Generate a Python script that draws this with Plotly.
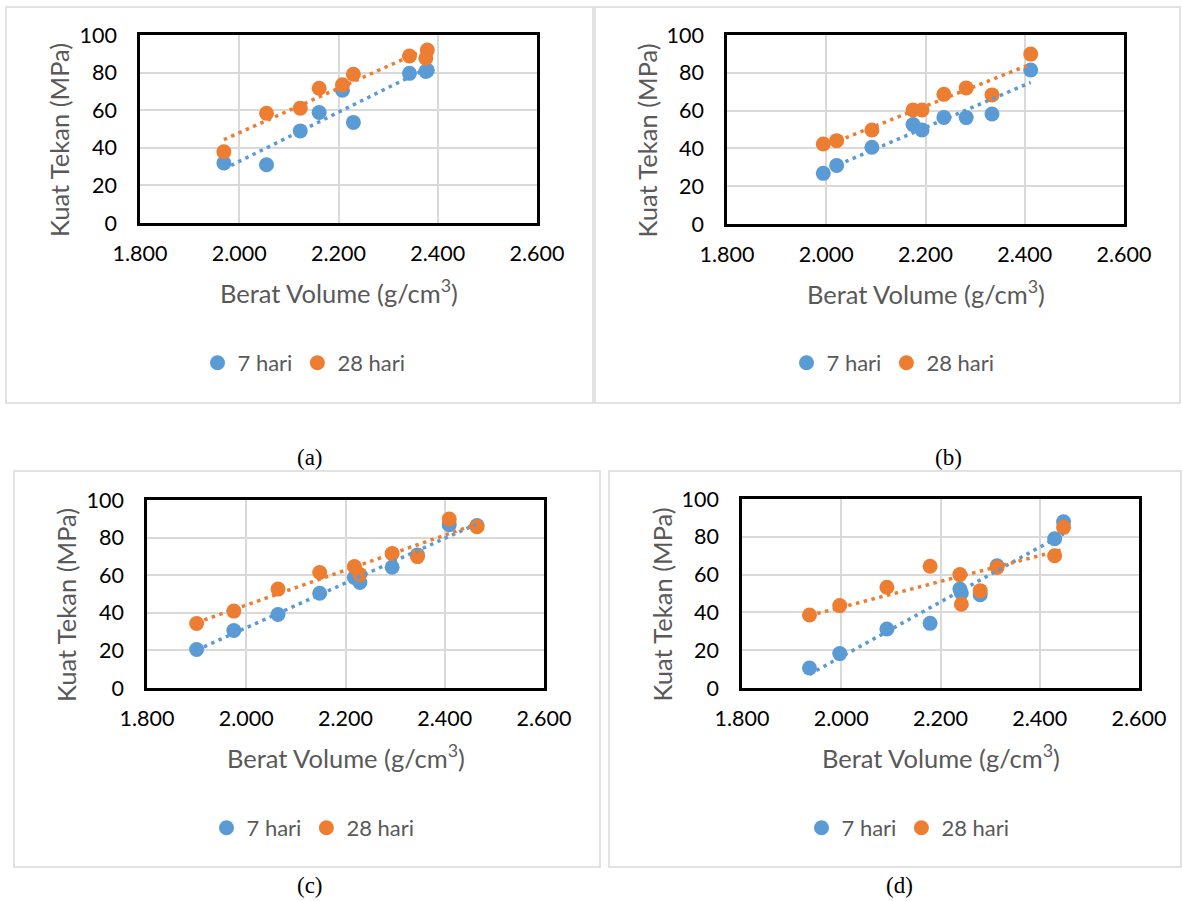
import numpy as np
import plotly.graph_objects as go

W, H = 1182, 901

# ---------------- data ----------------
# (a)
a_x = [1.969, 2.055, 2.123, 2.161, 2.208, 2.230, 2.343, 2.376, 2.379]
a_7 = [31.9, 31.0, 49.0, 58.8, 70.6, 53.5, 79.6, 80.6, 81.2]
a_28 = [37.9, 58.4, 61.1, 71.7, 73.5, 79.1, 88.8, 87.6, 92.0]
# (b)
b_x = [1.994, 2.021, 2.092, 2.175, 2.193, 2.237, 2.282, 2.334, 2.412]
b_7 = [26.8, 31.0, 40.6, 52.6, 49.7, 56.4, 56.3, 58.2, 81.5]
b_28 = [42.3, 44.1, 49.7, 60.3, 60.3, 68.6, 72.0, 68.3, 89.9]
# (c)
c_x = [1.900, 1.975, 2.064, 2.148, 2.218, 2.229, 2.294, 2.345, 2.409, 2.465]
c_7 = [20.5, 30.6, 39.1, 50.4, 58.8, 56.1, 64.2, 70.8, 86.9, 86.4]
c_28 = [34.3, 40.9, 52.6, 61.4, 64.6, 60.4, 71.5, 69.9, 89.9, 85.8]
# (d)
d_x = [1.936, 1.997, 2.092, 2.179, 2.239, 2.242, 2.280, 2.314, 2.430, 2.448]
d_7 = [10.6, 18.2, 31.2, 34.2, 52.4, 50.3, 49.4, 64.7, 79.0, 88.0]
d_28 = [38.6, 43.6, 53.3, 64.4, 60.0, 44.3, 51.5, 63.8, 70.0, 85.0]

series_names = ["7 hari", "28 hari"]
panel_labels = ["(a)", "(b)", "(c)", "(d)"]
x_ticks = [1.8, 2.0, 2.2, 2.4, 2.6]
y_ticks = [0, 20, 40, 60, 80, 100]
x_title = "Berat Volume (g/cm<sup>3</sup>)"
y_title = "Kuat Tekan (MPa)"

BLUE = "#5B9BD5"
ORANGE = "#ED7D31"
GRID = "#D9D9D9"
GREY = "#595959"
FONT = "Lato"


def px(x):
    return x / W


def py(y):
    return 1 - y / H


# pixel geometry of each panel: plot area (l, r, t, b), frame (l, r, t, b), legend (cx, cy), label (x, y), ytitle x
panels = [
    dict(data=(a_x, a_7, a_28), plot=(140, 537, 35, 223), frame=(6, 593, 7, 403),
         leg=(304, 363), lab=(310, 457), ytx=59),
    dict(data=(b_x, b_7, b_28), plot=(727, 1124, 35, 224), frame=(595, 1180, 7, 403),
         leg=(893, 363), lab=(948, 457), ytx=646),
    dict(data=(c_x, c_7, c_28), plot=(147, 544, 500, 688), frame=(14, 600, 471, 867),
         leg=(313, 828), lab=(310, 885), ytx=66),
    dict(data=(d_x, d_7, d_28), plot=(742, 1139, 499, 688), frame=(609, 1181, 471, 867),
         leg=(908, 828), lab=(900, 885), ytx=661),
]

fig = go.Figure()
layout = dict(
    width=W, height=H, margin=dict(l=0, r=0, t=0, b=0, autoexpand=False),
    paper_bgcolor="white", plot_bgcolor="white",
    font=dict(family=FONT, size=20, color="black"),
)
shapes = []
annotations = []

for i, p in enumerate(panels):
    k = "" if i == 0 else str(i + 1)
    xa, ya = "x" + k, "y" + k
    legname = "legend" + k
    xs, y7, y28 = p["data"]
    l, r, t, b = p["plot"]

    # markers
    for ys, col, nm in ((y7, BLUE, series_names[0]), (y28, ORANGE, series_names[1])):
        fig.add_trace(go.Scatter(
            x=xs, y=ys, mode="markers", name=nm, xaxis=xa, yaxis=ya,
            marker=dict(size=15, color=col), legend=legname, showlegend=True,
            hoverinfo="x+y",
        ))
    # linear trendlines (least-squares fit of each series)
    for ys, col in ((y7, BLUE), (y28, ORANGE)):
        m, c0 = np.polyfit(xs, ys, 1)
        xl = np.array([min(xs), max(xs)])
        fig.add_trace(go.Scatter(
            x=xl, y=m * xl + c0, mode="lines", xaxis=xa, yaxis=ya,
            line=dict(color=col, width=3.5, dash="3.5px,4.5px"),
            showlegend=False, hoverinfo="skip",
        ))

    layout["xaxis" + k] = dict(
        domain=[px(l), px(r)], anchor=ya, range=[1.8, 2.6],
        tickvals=x_ticks, tickformat=".3f", showgrid=True, gridcolor=GRID, gridwidth=1.5,
        showline=True, linecolor="black", linewidth=2.5, mirror=True, zeroline=False,
        ticks="", ticklabelstandoff=9, tickfont=dict(family=FONT, size=21.5, color="black"),
    )
    layout["yaxis" + k] = dict(
        domain=[py(b), py(t)], anchor=xa, range=[0, 100],
        tickvals=y_ticks, showgrid=True, gridcolor=GRID, gridwidth=1.5,
        showline=True, linecolor="black", linewidth=2.5, mirror=True, zeroline=False,
        ticks="", ticklabelstandoff=16, tickfont=dict(family=FONT, size=21.5, color="black"),
    )
    layout[legname] = dict(
        orientation="h", x=px(p["leg"][0]), y=py(p["leg"][1]), xanchor="center", yanchor="middle",
        xref="paper", yref="paper", font=dict(family=FONT, size=22, color=GREY),
        bgcolor="rgba(0,0,0,0)", itemclick=False, itemdoubleclick=False,
    )

    fl, fr, ft, fb = p["frame"]
    shapes.append(dict(type="rect", xref="paper", yref="paper",
                       x0=px(fl), x1=px(fr), y0=py(fb), y1=py(ft),
                       line=dict(color=GRID, width=1.5), layer="below"))
    # axis titles
    annotations.append(dict(text=x_title, xref="paper", yref="paper",
                            x=px((l + r) / 2), y=py(b + 68),
                            xanchor="center", yanchor="middle", showarrow=False,
                            font=dict(family=FONT, size=25.5, color=GREY)))
    annotations.append(dict(text=y_title, xref="paper", yref="paper",
                            x=px(p["ytx"]), y=py((t + b) / 2 + 11), textangle=-90,
                            xanchor="center", yanchor="middle", showarrow=False,
                            font=dict(family=FONT, size=25.5, color=GREY)))
    # panel label
    annotations.append(dict(text=panel_labels[i], xref="paper", yref="paper",
                            x=px(p["lab"][0]), y=py(p["lab"][1]),
                            xanchor="center", yanchor="middle", showarrow=False,
                            font=dict(family="Liberation Serif", size=23, color="black")))

layout["shapes"] = shapes
layout["annotations"] = annotations
fig.update_layout(**layout)
fig.write_html("out.html")
